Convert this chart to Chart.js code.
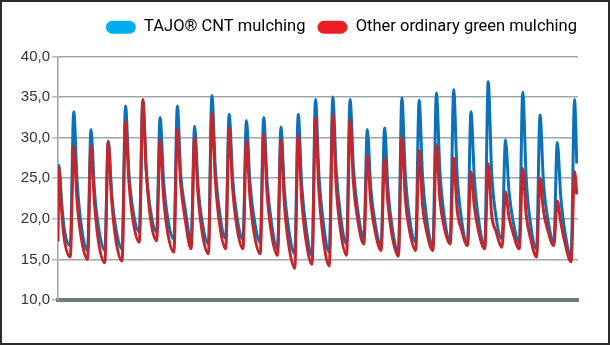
<!DOCTYPE html>
<html>
<head>
<meta charset="utf-8">
<script src="https://cdn.jsdelivr.net/npm/chart.js@4.4.1/dist/chart.umd.min.js"></script>
<style>
  html, body { margin: 0; padding: 0; background: #fff; }
  #frame { width: 610px; height: 345px; box-sizing: border-box; border: 2px solid #2b2b2b; position: relative; background: #fff; }
  #chart { position: absolute; left: 0; top: 0; }
</style>
</head>
<body>
<div id="frame"><canvas id="chart" width="606" height="341"></canvas></div>
<script>
// Daily soil temperature cycles (°C), one peak per day.
const seriesNames = ['TAJO® CNT mulching', 'Other ordinary green mulching'];
const lineColors = ['#0c71b8', '#c1272d'];
const legendColors = ['#00aeef', '#ec1c24'];
const yTicks = [10, 15, 20, 25, 30, 35, 40];

// TAJO® CNT mulching
const blueStart = 21.0;
const blueHigh  = [26.6,33.2,31.0,29.6,33.9,34.5,32.5,33.9,31.4,35.2,32.9,32.1,32.5,31.3,32.9,34.7,35.0,34.7,31.0,31.2,34.9,34.6,35.5,35.9,33.2,36.9,29.7,35.6,32.8,29.4,34.7];
const blueEarly = [22.0,24.5,23.5,23.0,25.5,26.0,24.8,25.4,24.0,26.3,25.0,24.6,24.5,23.5,24.2,25.3,26.0,26.2,23.8,23.5,25.5,25.2,26.0,25.5,25.0,25.8,23.5,25.0,24.5,22.8];
const blueLate  = [18.8,19.0,18.8,18.7,20.8,21.0,20.0,21.3,19.5,20.8,20.3,20.0,19.5,18.7,19.0,19.6,20.4,21.0,19.5,18.8,20.0,19.8,20.4,20.0,19.8,20.3,19.6,19.4,20.0,18.3];
const blueLow   = [16.7,16.1,16.1,16.3,18.4,18.4,17.5,17.3,16.9,17.6,17.5,17.1,16.3,15.7,15.5,15.9,16.9,17.7,16.7,15.8,17.1,16.7,17.3,16.9,16.7,17.5,17.1,16.3,17.1,15.5];
const blueEnd   = 26.8;

// Other ordinary green mulching
const redStart = 17.2;
const redHigh  = [26.3,28.9,29.0,29.5,32.0,34.7,29.7,31.0,30.1,33.0,31.2,29.7,30.4,29.7,30.4,32.4,32.8,32.2,27.7,27.5,30.1,28.4,29.2,27.5,25.8,26.8,23.3,26.2,25.0,22.2,25.8];
const redEarly = [21.0,22.0,22.0,22.3,24.5,26.0,22.8,24.2,23.0,24.8,23.8,22.8,23.0,21.8,22.4,23.4,24.0,24.3,22.0,21.8,22.5,21.6,22.5,21.2,21.5,20.5,20.3,20.5,21.0,19.6];
const redLate  = [17.6,17.5,17.0,17.3,19.6,20.0,18.2,20.0,18.2,19.3,19.0,18.2,18.2,16.8,17.4,17.6,18.6,19.8,18.5,17.8,18.5,18.3,19.0,18.7,18.4,18.5,18.2,17.6,18.6,17.0];
const redLow   = [15.3,15.0,14.6,14.8,17.1,17.3,15.9,16.3,15.7,16.3,16.3,15.7,15.5,13.9,14.4,14.2,15.5,16.9,16.1,15.4,16.1,16.1,16.9,16.7,16.3,16.5,16.3,15.3,16.7,14.7];
const redEnd   = 23.0;

// Time axis in days; the record starts just after the first afternoon peak.
const X_MIN = 0.09, X_MAX = 30.2, X_LAST = 30.13;

// Each day: afternoon peak, fast cooling, slow overnight cooling, dawn minimum.
function buildSeries(start, high, early, late, low, end) {
  const pts = [{ x: X_MIN, y: start }];
  for (let d = 0; d < high.length; d++) {
    const peakAt = d === 0 ? 0.14 : d;
    pts.push({ x: peakAt, y: high[d] });
    if (d < low.length) {
      pts.push({ x: d + (d === 0 ? 0.3 : 0.2), y: early[d] });
      pts.push({ x: d + 0.45, y: late[d] });
      pts.push({ x: d + 0.8, y: low[d] });
    }
  }
  pts.push({ x: X_LAST, y: end });
  return pts;
}

new Chart(document.getElementById('chart'), {
  type: 'line',
  data: {
    datasets: [
      {
        label: seriesNames[0],
        data: buildSeries(blueStart, blueHigh, blueEarly, blueLate, blueLow, blueEnd),
        xAxisID: 'x', yAxisID: 'y',
        borderColor: lineColors[0], backgroundColor: legendColors[0],
        borderWidth: 3, pointRadius: 0, cubicInterpolationMode: 'monotone', order: 1
      },
      {
        label: seriesNames[1],
        data: buildSeries(redStart, redHigh, redEarly, redLate, redLow, redEnd),
        xAxisID: 'x', yAxisID: 'y',
        borderColor: lineColors[1], backgroundColor: legendColors[1],
        borderWidth: 3, pointRadius: 0, cubicInterpolationMode: 'monotone', order: 0
      }
    ]
  },
  options: {
    responsive: false,
    animation: false,
    events: [],
    layout: { padding: { top: 5, right: 19, bottom: 43, left: 0 } },
    plugins: {
      tooltip: { enabled: false },
      legend: {
        position: 'top',
        align: 'end',
        labels: {
          font: { family: 'Roboto', size: 16.5 },
          color: '#1a1a1a',
          boxWidth: 30,
          boxHeight: 13,
          padding: 12,
          useBorderRadius: true,
          borderRadius: 6.5,
          generateLabels: () => seriesNames.map((name, i) => ({
            text: name,
            fillStyle: legendColors[i],
            strokeStyle: legendColors[i],
            lineWidth: 0,
            borderRadius: 6.5,
            hidden: false,
            datasetIndex: i
          }))
        }
      }
    },
    scales: {
      x: {
        type: 'linear',
        min: X_MIN,
        max: X_MAX,
        grid: { display: false, drawTicks: false },
        ticks: { display: false },
        border: { display: true, color: '#6c7a80', width: 4 },
        afterFit: s => { s.height = 0; }
      },
      y: {
        min: 10,
        max: 40,
        afterBuildTicks: s => { s.ticks = yTicks.map(v => ({ value: v })); },
        ticks: {
          padding: 2,
          color: '#333333',
          font: { family: 'Liberation Sans', size: 15 },
          callback: v => v.toFixed(1).replace('.', ',')
        },
        grid: { color: '#9ca6ab', lineWidth: 1.6, tickLength: 6, tickColor: '#b7bec2' },
        border: { color: '#9ca6ab', width: 1.6 },
        afterFit: s => { s.width = 56; }
      },
      // empty spacer between the legend and the plot
      gapTop: {
        type: 'linear', position: 'top', display: true, min: 0, max: 1,
        grid: { display: false, drawTicks: false },
        ticks: { display: false },
        border: { display: false },
        afterFit: s => { s.height = 11; }
      },
      // empty spacer on the right of the plot
      gapRight: {
        type: 'linear', position: 'right', display: true, min: 0, max: 1,
        grid: { display: false, drawTicks: false },
        ticks: { display: false },
        border: { display: false },
        afterFit: s => { s.width = 11; }
      }
    }
  }
});
</script>
</body>
</html>
